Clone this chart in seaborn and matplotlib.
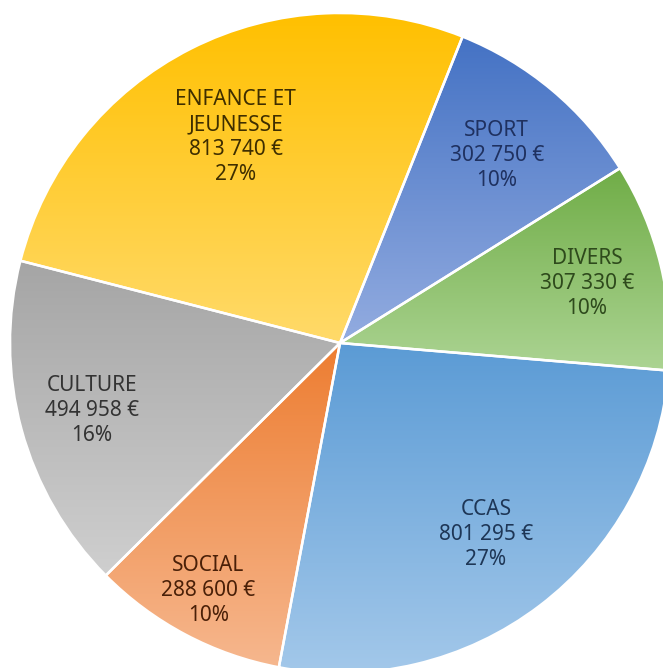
import numpy as np
import matplotlib
matplotlib.use("Agg")
import matplotlib.pyplot as plt
import seaborn as sns

# Data (clockwise from the top, starting with SPORT)
categories = ["SPORT", "DIVERS", "CCAS", "SOCIAL", "CULTURE", "ENFANCE ET\nJEUNESSE"]
amounts = [302750, 307330, 801295, 288600, 494958, 813740]

# Styling
base_colors = ["#4472C4", "#70AD47", "#5B9BD5", "#ED7D31", "#A5A5A5", "#FFC000"]
light_colors = ["#93ACE0", "#ACD493", "#A3C8EA", "#F6B78E", "#CFCFCF", "#FFDA6A"]
text_colors = ["#1F3160", "#2E4A1C", "#1E3656", "#4A2008", "#333333", "#3E2E00"]
label_radius = [0.74, 0.77, 0.73, 0.85, 0.78, 0.70]


def fmt_amount(v):
    return f"{v:,}".replace(",", " ") + " €"


sns.set_theme(style="white")
plt.rcParams["font.family"] = ["Noto Sans", "DejaVu Sans"]

W, H = 663, 668
fig = plt.figure(figsize=(W / 100, H / 100), dpi=100)
ax = fig.add_axes([0, 0, 1, 1])

center = (340, H - 343)
radius = 330
start = 90 - 21.8

wedges, _ = ax.pie(amounts, startangle=start, counterclock=False,
                   center=center, radius=radius,
                   wedgeprops=dict(facecolor="none", edgecolor="white",
                                   linewidth=1.8, zorder=3))

total = sum(amounts)
for i, w in enumerate(wedges):
    # vertical gradient inside each slice (dark at top, lighter at bottom)
    ext = w.get_path().get_extents()
    cmap = sns.blend_palette([light_colors[i], base_colors[i]], as_cmap=True)
    grad = np.linspace(0, 1, 256).reshape(-1, 1)
    im = ax.imshow(grad, cmap=cmap, origin="lower", aspect="auto",
                   extent=[ext.x0, ext.x1, ext.y0, ext.y1], zorder=2,
                   interpolation="bilinear")
    im.set_clip_path(w)

    mid = np.deg2rad((w.theta1 + w.theta2) / 2)
    r = radius * label_radius[i]
    x = center[0] + r * np.cos(mid)
    y = center[1] + r * np.sin(mid)
    pct = round(100 * amounts[i] / total)
    ax.text(x, y, f"{categories[i]}\n{fmt_amount(amounts[i])}\n{pct}%",
            ha="center", va="center", fontsize=15, color=text_colors[i],
            linespacing=1.25, zorder=4)

ax.set_xlim(0, W)
ax.set_ylim(0, H)
ax.set_aspect("equal")
ax.axis("off")
fig.savefig("out.png", dpi=100)
